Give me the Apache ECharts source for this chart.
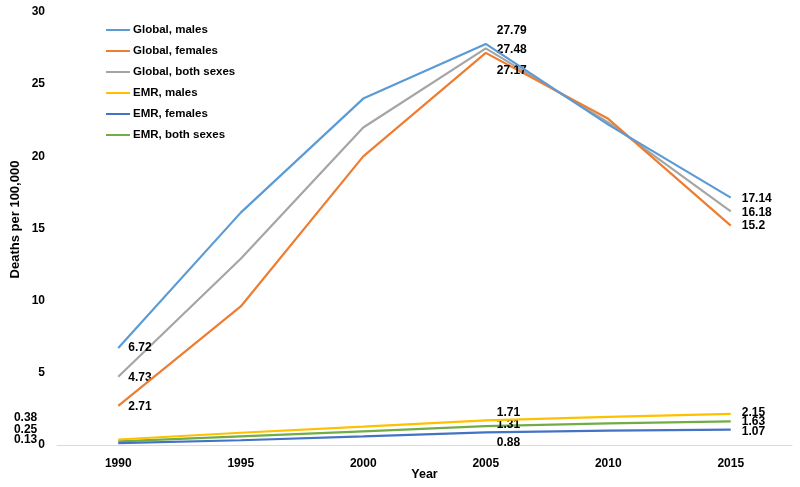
<!DOCTYPE html>
<html><head><meta charset="utf-8">
<script src="https://cdn.jsdelivr.net/npm/echarts@6/dist/echarts.min.js"></script>
<style>html,body{margin:0;padding:0;background:#fff}#c{width:800px;height:487px}</style>
</head><body><div id="c"></div>
<script>
const years = ['1990','1995','2000','2005','2010','2015'];
const globalMales = [6.72, 16.1, 24.0, 27.79, 22.2, 17.14];
const globalFemales = [2.71, 9.6, 20.0, 27.17, 22.6, 15.2];
const globalBoth = [4.73, 12.9, 22.0, 27.48, 22.35, 16.18];
const emrMales = [0.38, 0.85, 1.27, 1.71, 1.95, 2.15];
const emrFemales = [0.13, 0.33, 0.6, 0.88, 1.0, 1.07];
const emrBoth = [0.25, 0.6, 0.95, 1.31, 1.5, 1.63];
const seriesNames = ['Global, males','Global, females','Global, both sexes','EMR, males','EMR, females','EMR, both sexes'];
const colors = ['#5B9BD5','#ED7D31','#A5A5A5','#FFC000','#4472C4','#70AD47'];
const allData = [globalMales, globalFemales, globalBoth, emrMales, emrFemales, emrBoth];
// label placement per series for indices 0,3,5 : [position, dx, dy]
const labelCfg = [
  {0:['right',5,0], 3:['right',6,-13], 5:['right',6,1]},
  {0:['right',5,1], 3:['right',6,18], 5:['right',6,0]},
  {0:['right',5,1], 3:['right',6,1.5], 5:['right',6,1.5]},
  {0:['left',-76,-21.5], 3:['right',6,-8], 5:['right',6,-1]},
  {0:['left',-76,-3], 3:['right',6,10], 5:['right',6,2]},
  {0:['left',-76,-11.5], 3:['right',6,-1], 5:['right',6,0.5]}
];
const font = 'Liberation Sans';
const series = allData.map((arr, si) => ({
  name: seriesNames[si],
  type: 'line',
  symbol: 'circle',
  symbolSize: 0,
  showSymbol: true,
  lineStyle: {width: 2.2, color: colors[si]},
  itemStyle: {color: colors[si]},
  z: si < 3 ? 3 - si : 6 - si,
  label: {show: false},
  labelLayout: function (p) {
    const c = labelCfg[si][p.dataIndex];
    if (!c) return {};
    return {dx: c[1], dy: c[2], hideOverlap: false};
  },
  data: arr.map((v, i) => {
    const c = labelCfg[si][i];
    if (!c) return {value: v};
    return {value: v, label: {show: true, position: c[0], distance: 5,
      formatter: String(v), color: '#000', fontFamily: font, fontWeight: 'bold', fontSize: 12}};
  })
}));
const chart = echarts.init(document.getElementById('c'), null, {renderer: 'canvas'});
chart.setOption({
  animation: false,
  color: colors,
  grid: {left: 57, right: 8, top: 12, bottom: 42, containLabel: false, outerBoundsMode: 'none'},
  legend: {
    orient: 'vertical', left: 101, top: 19, itemGap: 9, itemWidth: 24, itemHeight: 12,
    icon: 'path://M0,5 L24,5 L24,7 L0,7 Z',
    data: seriesNames,
    textStyle: {fontFamily: font, fontWeight: 'bold', fontSize: 11.5, color: '#000', padding: [0,0,0,-2]}
  },
  xAxis: {
    type: 'category', data: years, boundaryGap: true,
    name: 'Year', nameLocation: 'middle', nameGap: 23, nameMoveOverlap: false,
    nameTextStyle: {fontFamily: font, fontWeight: 'bold', fontSize: 12.5, color: '#000'},
    axisLine: {lineStyle: {color: '#D9D9D9', width: 1}},
    axisTick: {show: false},
    axisLabel: {color: '#000', fontFamily: font, fontWeight: 'bold', fontSize: 12, margin: 13}
  },
  yAxis: {
    type: 'value', min: 0, max: 30, interval: 5,
    name: 'Deaths per 100,000', nameLocation: 'middle', nameGap: 35, nameMoveOverlap: false,
    nameTextStyle: {fontFamily: font, fontWeight: 'bold', fontSize: 13, color: '#000', padding: [0,0,0,18]},
    splitLine: {show: false}, axisLine: {show: false}, axisTick: {show: false},
    axisLabel: {color: '#000', fontFamily: font, fontWeight: 'bold', fontSize: 12, margin: 12}
  },
  series: series
});
</script></body></html>
